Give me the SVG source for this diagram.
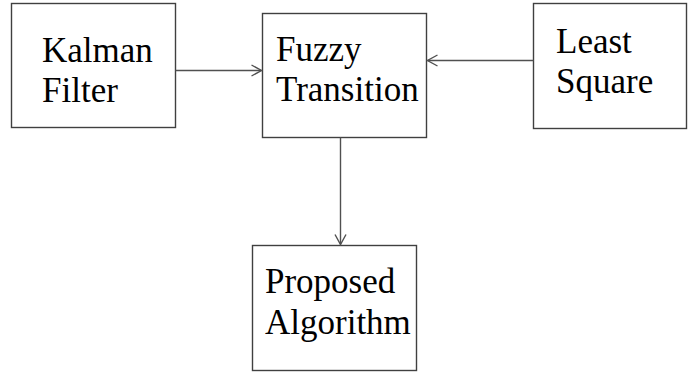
<svg xmlns="http://www.w3.org/2000/svg" width="688" height="372" viewBox="0 0 688 372">
  <style>
    .box { fill: #ffffff; stroke: #404040; stroke-width: 1.4; }
    .lbl { font-family: 'Liberation Serif', 'Times New Roman', Times, serif; font-size: 35px; fill: #000000; }
    .edge { fill: none; stroke: #505050; stroke-width: 1.4; }
    .head { fill: none; stroke: #505050; stroke-width: 1.4; stroke-linejoin: miter; }
  </style>
  <rect width="688" height="372" fill="#ffffff"/>

  <g id="kalman">
    <rect class="box" x="11.5" y="3.5" width="164" height="124"/>
    <text class="lbl" x="42" y="62">Kalman</text>
    <text class="lbl" x="42" y="102">Filter</text>
  </g>

  <g id="fuzzy">
    <rect class="box" x="262.5" y="13.5" width="164" height="124"/>
    <text class="lbl" x="276" y="61">Fuzzy</text>
    <text class="lbl" x="276" y="101">Transition</text>
  </g>

  <g id="least">
    <rect class="box" x="533.5" y="3.5" width="153" height="125"/>
    <text class="lbl" x="556" y="53">Least</text>
    <text class="lbl" x="556" y="93">Square</text>
  </g>

  <g id="proposed">
    <rect class="box" x="252.5" y="245.5" width="164" height="125"/>
    <text class="lbl" x="265" y="293">Proposed</text>
    <text class="lbl" x="265" y="334">Algorithm</text>
  </g>

  <g id="connectors">
    <line class="edge" x1="175.5" y1="70.5" x2="261.5" y2="70.5"/>
    <polyline class="head" points="251.5,65 261.5,70.5 251.5,76"/>

    <line class="edge" x1="533.5" y1="60.5" x2="427.5" y2="60.5"/>
    <polyline class="head" points="437.5,55 427.5,60.5 437.5,66"/>

    <line class="edge" x1="340.5" y1="137.5" x2="340.5" y2="244.5"/>
    <polyline class="head" points="335,234.5 340.5,244.5 346,234.5"/>
  </g>
</svg>
